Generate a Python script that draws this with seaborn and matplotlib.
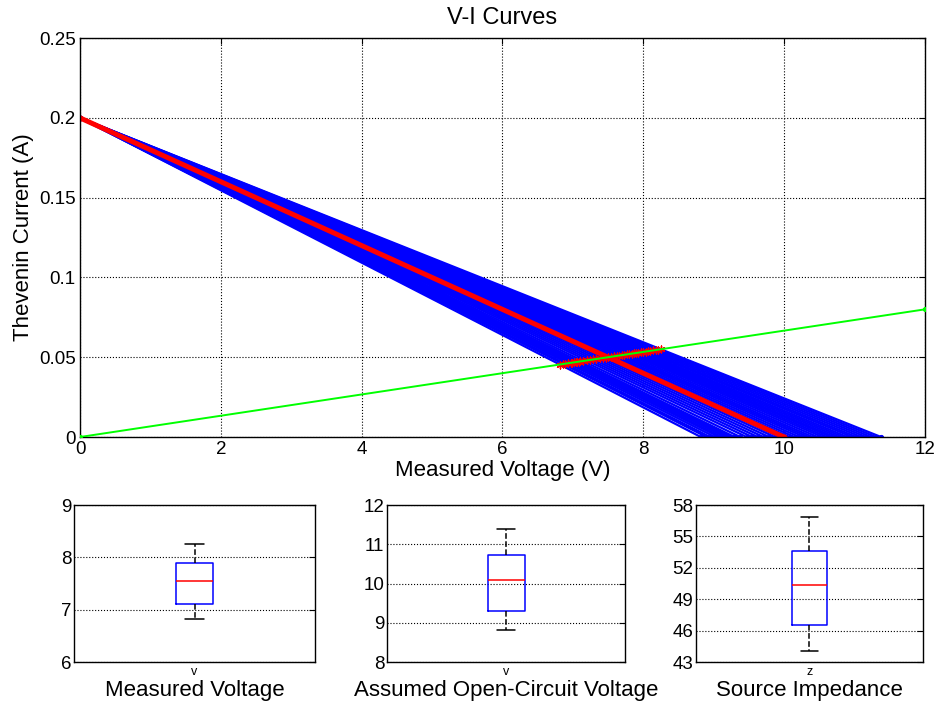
import numpy as np
import pandas as pd
import matplotlib
matplotlib.use('Agg')
import matplotlib.pyplot as plt
import seaborn as sns


# Thevenin short-circuit current (all curves share it)
iscVal = 0.2

# assumed open-circuit voltages, one per Monte-Carlo run
openVoltage = [
    8.82, 8.90, 8.95, 9.02, 9.08, 9.12, 9.17, 9.20, 9.24, 9.27,
    9.30, 9.38, 9.47, 9.55, 9.63, 9.71, 9.79, 9.87, 9.94, 10.01,
    10.08, 10.15, 10.22, 10.29, 10.35, 10.41, 10.48, 10.55, 10.61, 10.67,
    10.72, 10.78, 10.84, 10.90, 10.97, 11.03, 11.10, 11.17, 11.24, 11.31,
    11.38
]

# source impedances (ohm) for the same runs
sourceImpedance = [
    44.10, 44.50, 44.75, 45.10, 45.40, 45.60, 45.85, 46.00, 46.20, 46.35,
    46.50, 46.90, 47.35, 47.75, 48.15, 48.55, 48.95, 49.35, 49.70, 50.05,
    50.40, 50.75, 51.10, 51.45, 51.75, 52.05, 52.40, 52.75, 53.05, 53.35,
    53.60, 53.90, 54.20, 54.50, 54.85, 55.15, 55.50, 55.85, 56.20, 56.55,
    56.90
]

# measured operating points on the load line
measuredVoltage = [
    6.816, 6.864, 6.893, 6.935, 6.970, 6.994, 7.023, 7.041, 7.064, 7.082,
    7.099, 7.146, 7.198, 7.244, 7.290, 7.336, 7.381, 7.427, 7.466, 7.506,
    7.545, 7.584, 7.623, 7.662, 7.695, 7.728, 7.767, 7.805, 7.838, 7.871,
    7.898, 7.930, 7.963, 7.995, 8.033, 8.065, 8.102, 8.139, 8.177, 8.213,
    8.250
]
measuredCurrent = [
    0.04544, 0.04576, 0.04595, 0.04623, 0.04647, 0.04663, 0.04682, 0.04694, 0.04709, 0.04721,
    0.04733, 0.04764, 0.04799, 0.04829, 0.04860, 0.04891, 0.04921, 0.04951, 0.04977, 0.05004,
    0.05030, 0.05056, 0.05082, 0.05108, 0.05130, 0.05152, 0.05178, 0.05203, 0.05225, 0.05247,
    0.05265, 0.05287, 0.05309, 0.05330, 0.05355, 0.05377, 0.05401, 0.05426, 0.05451, 0.05475,
    0.05500
]

# nominal source curve and load line
nominalVoltage = [0.0, 10.0]
nominalCurrent = [0.2, 0.0]
loadVoltage = [0.0, 12.0]
loadCurrent = [0.0, 0.08]

sns.set_style('white')
plt.rcParams['font.family'] = ['Liberation Sans', 'DejaVu Sans']
plt.rcParams['axes.edgecolor'] = 'black'
plt.rcParams['axes.linewidth'] = 1.0
plt.rcParams['text.color'] = 'black'
plt.rcParams['axes.labelcolor'] = 'black'
plt.rcParams['xtick.color'] = 'black'
plt.rcParams['ytick.color'] = 'black'

fig = plt.figure(figsize=(9.36, 7.06), dpi=100)

axTop = fig.add_axes([0.0855, 0.381, 0.9025, 0.565])

rows = []
for run, voc in enumerate(openVoltage):
    rows.append({'run': run, 'V': 0.0, 'I': iscVal})
    rows.append({'run': run, 'V': voc, 'I': 0.0})
curves = pd.DataFrame(rows)

sns.lineplot(data=curves, x='V', y='I', units='run', estimator=None,
             color='blue', linewidth=1.6, marker='.', markersize=6,
             markeredgecolor='blue', ax=axTop)
sns.lineplot(x=nominalVoltage, y=nominalCurrent, color='red', linewidth=3.6,
             marker='.', markersize=7, markeredgecolor='red', ax=axTop)
axTop.scatter(measuredVoltage, measuredCurrent, marker=(6, 2, 0), s=24,
              color='red', linewidths=1.0, zorder=4)
sns.lineplot(x=loadVoltage, y=loadCurrent, color='#00ff00', linewidth=1.4,
             marker='.', markersize=6, markeredgecolor='#00ff00', ax=axTop, zorder=5)

axTop.set_xlim(0, 12)
axTop.set_ylim(0, 0.25)
axTop.set_xticks(np.arange(0, 13, 2))
axTop.set_yticks([0, 0.05, 0.1, 0.15, 0.2, 0.25])
axTop.set_yticklabels(['0', '0.05', '0.1', '0.15', '0.2', '0.25'])
axTop.grid(True, color='black', linestyle=':', linewidth=0.8)
axTop.tick_params(direction='in', top=True, right=True, labelsize=13.5, length=4, pad=3)
axTop.set_title('V-I Curves', fontsize=17, pad=10)
axTop.set_xlabel('Measured Voltage (V)', fontsize=16, labelpad=1)
axTop.set_ylabel('Thevenin Current (A)', fontsize=16, labelpad=4)

boxSpecs = [
    (measuredVoltage, [0.079, 0.2577], 'v', 'Measured Voltage', (6, 9), [6, 7, 8, 9]),
    (openVoltage, [0.4135, 0.2545], 'v', 'Assumed Open-Circuit Voltage', (8, 12), [8, 9, 10, 11, 12]),
    (sourceImpedance, [0.7436, 0.2425], 'z', 'Source Impedance', (43, 58), [43, 46, 49, 52, 55, 58]),
]

for values, (left, width), tick, label, ylim, yticks in boxSpecs:
    ax = fig.add_axes([left, 0.0623, width, 0.2224])
    sns.boxplot(y=values, ax=ax, width=0.155, fill=False, showfliers=False,
                whis=1.5, linewidth=1.1,
                boxprops=dict(color='blue'),
                medianprops=dict(color='red'),
                whiskerprops=dict(color='black', linestyle='--'),
                capprops=dict(color='black'))
    ax.set_xlim(-0.5, 0.5)
    ax.set_ylim(*ylim)
    ax.set_yticks(yticks)
    ax.set_xticks([0])
    ax.set_xticklabels([tick], fontsize=9)
    ax.set_ylabel('')
    ax.set_xlabel(label, fontsize=16, labelpad=1)
    ax.grid(True, axis='y', color='black', linestyle=':', linewidth=0.8)
    ax.tick_params(axis='y', direction='in', right=True, labelsize=13.5, length=4, pad=2)
    ax.tick_params(axis='x', length=0, pad=3)
    for spine in ax.spines.values():
        spine.set_visible(True)
        spine.set_color('black')

fig.savefig('out.png', dpi=100)
plt.close(fig)
